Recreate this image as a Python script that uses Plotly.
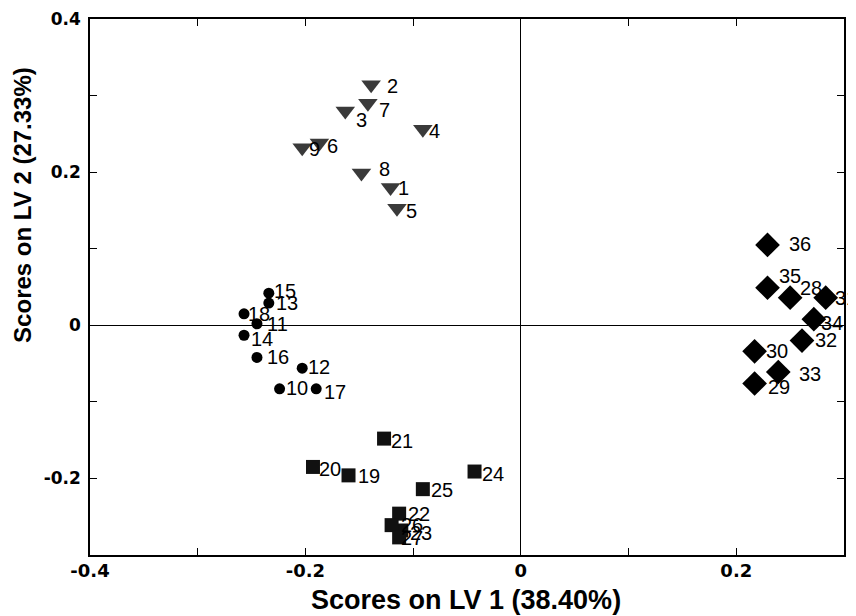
import plotly.graph_objects as go

# ---- data (scores) ----
tri_ids = ["1", "2", "3", "4", "5", "6", "7", "8", "9"]
tri_x = [-0.121, -0.139, -0.163, -0.091, -0.115, -0.187, -0.142, -0.148, -0.203]
tri_y = [0.180, 0.314, 0.280, 0.256, 0.153, 0.238, 0.290, 0.199, 0.232]

cir_ids = ["10", "11", "12", "13", "14", "15", "16", "17", "18"]
cir_x = [-0.224, -0.245, -0.203, -0.234, -0.257, -0.234, -0.245, -0.190, -0.257]
cir_y = [-0.083, 0.002, -0.056, 0.029, -0.013, 0.042, -0.042, -0.083, 0.015]

sq_ids = ["19", "20", "21", "22", "23", "24", "25", "26", "27"]
sq_x = [-0.160, -0.193, -0.127, -0.113, -0.111, -0.043, -0.091, -0.120, -0.113]
sq_y = [-0.196, -0.185, -0.148, -0.246, -0.268, -0.191, -0.214, -0.261, -0.277]

dia_ids = ["28", "29", "30", "31", "32", "33", "34", "35", "36"]
dia_x = [0.250, 0.217, 0.217, 0.283, 0.261, 0.239, 0.272, 0.229, 0.229]
dia_y = [0.036, -0.076, -0.034, 0.036, -0.020, -0.061, 0.008, 0.049, 0.105]

x_tickvals = [-0.4, -0.3, -0.2, -0.1, 0, 0.1, 0.2, 0.3]
x_ticktext = ["-0.4", "", "-0.2", "", "0", "", "0.2", ""]
y_tickvals = [-0.3, -0.2, -0.1, 0, 0.1, 0.2, 0.3, 0.4]
y_ticktext = ["", "-0.2", "", "0", "", "0.2", "", "0.4"]

x_title = "Scores on LV 1 (38.40%)"
y_title = "Scores on LV 2 (27.33%)"

# label offsets in screen pixels (dx right, dy down) -- styling only
label_offsets = {
    "1": (13, 1), "2": (21, 1), "3": (16, 9), "4": (12, 2), "5": (15, 3),
    "6": (13, 3), "7": (17, 7), "8": (23, -4), "9": (12, 1),
    "10": (17, -1), "11": (21, 0), "12": (17, -1), "13": (18, 0), "14": (18, 4),
    "15": (16, -2), "16": (21, 0), "17": (19, 3), "18": (15, 0),
    "19": (20, 1), "20": (17, 2), "21": (18, 2), "22": (20, 0), "23": (20, 2),
    "24": (18, 2), "25": (19, 1), "26": (20, 0), "27": (13, 1),
    "28": (21, -10), "29": (24, 4), "30": (22, 0), "31": (20, 0), "32": (24, -1),
    "33": (32, 2), "34": (18, 4), "35": (22, -12), "36": (32, -1),
}

fig = go.Figure()

groups = [
    (tri_ids, tri_x, tri_y, "triangle-down", 17, "#3a3a3a"),
    (cir_ids, cir_x, cir_y, "circle", 11, "#000000"),
    (sq_ids, sq_x, sq_y, "square", 14, "#111111"),
    (dia_ids, dia_x, dia_y, "diamond", 19, "#000000"),
]

for ids, xs, ys, sym, size, col in groups:
    fig.add_trace(go.Scatter(
        x=xs, y=ys, mode="markers",
        marker=dict(symbol=sym, size=size, color=col, line=dict(width=0)),
        showlegend=False, hoverinfo="skip", cliponaxis=False,
    ))
    for i, xv, yv in zip(ids, xs, ys):
        dx, dy = label_offsets[i]
        fig.add_annotation(
            x=xv, y=yv, text=i, showarrow=False,
            xanchor="center", yanchor="middle",
            xshift=dx, yshift=-dy,
            font=dict(family="Liberation Sans, Arial, sans-serif", size=20, color="black"),
        )

axis_common = dict(
    showline=True, linecolor="black", linewidth=1.5, mirror="ticks",
    ticks="inside", ticklen=7, tickwidth=1, tickcolor="black",
    showgrid=False, zeroline=True, zerolinecolor="black", zerolinewidth=1,
    automargin=False,
)

tick_font = dict(family="DejaVu Sans, Verdana, sans-serif", color="black", weight="bold")

fig.update_xaxes(
    range=[-0.4, 0.3], tickvals=x_tickvals, ticktext=x_ticktext,
    tickfont=dict(size=18, **tick_font), ticklabelstandoff=-1,
    **axis_common,
)
fig.update_yaxes(
    range=[-0.3, 0.4], tickvals=y_tickvals, ticktext=y_ticktext,
    tickfont=dict(size=17, **tick_font), ticklabelstandoff=4,
    **axis_common,
)

title_font = dict(family="Liberation Sans, Arial, sans-serif", color="black", weight="bold")
fig.add_annotation(
    xref="paper", yref="paper", x=0.4987, y=-0.084,
    xanchor="center", yanchor="middle", showarrow=False,
    text=x_title, font=dict(size=27, **title_font),
)
fig.add_annotation(
    xref="paper", yref="paper", x=-0.089, y=0.653,
    xanchor="center", yanchor="middle", showarrow=False, textangle=-90,
    text=y_title, font=dict(size=24, **title_font),
)

# page body adds an 8px margin, so the figure is 8px smaller and shifted
fig.update_layout(
    width=848, height=608,
    margin=dict(l=82, r=12, t=11, b=61),
    plot_bgcolor="white", paper_bgcolor="white",
)

fig.write_html("out.html")
